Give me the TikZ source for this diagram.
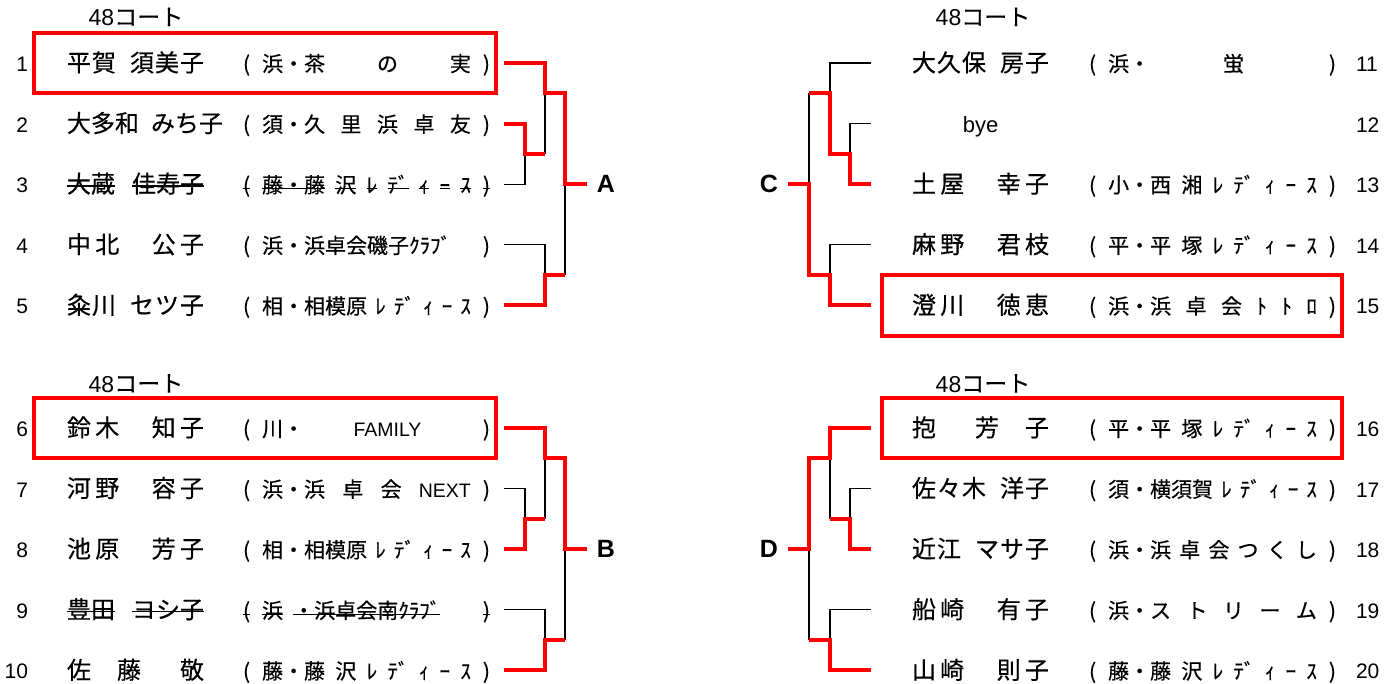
\documentclass[tikz,border=0pt]{standalone}
\usepackage{fontspec}
\setmainfont{Noto Sans CJK JP}[FakeBold=0.4]
\newfontfamily\latin{Liberation Sans}
\usetikzlibrary{matrix,positioning,calc}

\newcommand\nm[1]{\makebox[137bp][s]{#1}}
\newcommand\club[1]{\makebox[247bp][s]{(\hspace{12bp}#1\hspace{12bp})}}
\newcommand\sk[2][.25em]{\setbox0=\hbox{#2}\rlap{\rule[#1]{\wd0}{1.3bp}}\box0}
\newcommand\ks[1]{\sk[.16em]{#1}}
\newcommand\clubx[1]{\makebox[247bp][s]{\ks{(}\hspace{12bp}#1\hspace{12bp}\ks{)}}}
\newcommand\hs{\hspace{12bp}}
\newcommand\zs{\hspace{24bp}}
\newcommand\ltn[1]{{\latin\fontsize{19.5bp}{23bp}\selectfont #1}}

\tikzset{x=1bp,y=-1bp}
\tikzset{win/.style={draw=red, line width=4bp},
	lose/.style={draw=black, line width=1.2bp},
	winbox/.style={draw=red, line width=4bp},
	court/.style={font={\fontsize{23bp}{27bp}\selectfont}, inner sep=0pt, text height=19bp, text depth=2bp},
	pool/.style={font={\latin\bfseries\fontsize{25bp}{29bp}\selectfont}, inner ysep=0pt, inner xsep=10bp}}
\tikzset{sheet/.style={matrix of nodes, nodes in empty cells, ampersand replacement=\&,
		row sep=0pt, inner sep=0pt, outer sep=0pt, matrix anchor=north west,
		nodes={inner sep=0pt, outer sep=0pt, minimum height=60.6bp, text height=20bp, text depth=3bp}}}
\tikzset{drawL/.style={sheet, column sep=39bp,
		column 1/.style={nodes={text width=26bp, align=right, font={\latin\fontsize{21bp}{25bp}\selectfont}}},
		column 2/.style={nodes={text width=137bp, align=left, font={\fontsize{24bp}{28bp}\selectfont}}},
		column 3/.style={nodes={text width=247bp, align=left, font={\fontsize{21bp}{25bp}\selectfont}}}}}
\tikzset{drawR/.style={sheet, column sep=20bp,
		column 1/.style={nodes={text width=157bp, align=left, font={\fontsize{24bp}{28bp}\selectfont}}},
		column 2/.style={nodes={text width=247bp, align=left, font={\fontsize{21bp}{25bp}\selectfont}}},
		column 3/.style={nodes={text width=26bp, align=left, font={\latin\fontsize{21bp}{25bp}\selectfont}}}}}

\begin{document}
\begin{tikzpicture}
			\useasboundingbox (0,0) rectangle (1389,684);

			\matrix (mA) [drawL] at (2,32.7)
			{
				1 \& \nm{平\hfill 賀\hfill\hs\hfill 須\hfill 美\hfill 子} \& \club{浜・茶\hfill の\hfill 実} \\
				2 \& \makebox[137bp][l]{大多和\hs みち子} \& \club{須・久\hfill 里\hfill 浜\hfill 卓\hfill 友} \\
				3 \& \nm{\sk{大蔵}\hfill\sk{佳寿子}} \& \clubx{\ks{藤・藤}\hfill\ks{沢}\hfill\ks{ﾚ}\hfill\ks{ﾃﾞ}\hfill\ks{ｨ}\hfill\ks{ｰ}\hfill\ks{ｽ}} \\
				4 \& \nm{中\hfill 北\hfill\zs\hfill 公\hfill 子} \& \club{浜・浜卓会磯子ｸﾗﾌﾞ\hfill} \\
				5 \& \nm{粂\hfill 川\hfill\hs\hfill セ\hfill ツ\hfill 子} \& \club{相・相模原\hfill ﾚ\hfill ﾃﾞ\hfill ｨ\hfill ｰ\hfill ｽ} \\
			};

			\matrix (mB) [drawL] at (2,397.7)
			{
				6 \& \nm{鈴\hfill 木\hfill\zs\hfill 知\hfill 子} \& \club{川・\hfill\ltn{FAMILY}\hfill} \\
				7 \& \nm{河\hfill 野\hfill\zs\hfill 容\hfill 子} \& \club{浜・浜\hfill 卓\hfill 会\hfill\ltn{NEXT}} \\
				8 \& \nm{池\hfill 原\hfill\zs\hfill 芳\hfill 子} \& \club{相・相模原\hfill ﾚ\hfill ﾃﾞ\hfill ｨ\hfill ｰ\hfill ｽ} \\
				9 \& \nm{\sk{豊田}\hfill\sk{ヨシ子}} \& \clubx{\ks{浜}\hfill\ks{・浜卓会南ｸﾗﾌﾞ}\hfill\hfill\hfill} \\
				10 \& \nm{佐\hfill\hfill 藤\hfill\hfill\hfill 敬} \& \club{藤・藤\hfill 沢\hfill ﾚ\hfill ﾃﾞ\hfill ｨ\hfill ｰ\hfill ｽ} \\
			};

			\matrix (mC) [drawR] at (912,32.7)
			{
				\nm{大\hfill 久\hfill 保\hfill\hs\hfill 房\hfill 子} \& \club{浜・\hfill 蛍\hfill} \& 11 \\
				\makebox[137bp]{\latin\fontsize{22bp}{26bp}\selectfont bye} \& \& 12 \\
				\nm{土\hfill 屋\hfill\zs\hfill 幸\hfill 子} \& \club{小・西\hfill 湘\hfill ﾚ\hfill ﾃﾞ\hfill ｨ\hfill ｰ\hfill ｽ} \& 13 \\
				\nm{麻\hfill 野\hfill\zs\hfill 君\hfill 枝} \& \club{平・平\hfill 塚\hfill ﾚ\hfill ﾃﾞ\hfill ｨ\hfill ｰ\hfill ｽ} \& 14 \\
				\nm{澄\hfill 川\hfill\zs\hfill 徳\hfill 恵} \& \club{浜・浜\hfill 卓\hfill 会\hfill ﾄ\hfill ﾄ\hfill ﾛ} \& 15 \\
			};

			\matrix (mD) [drawR] at (912,397.7)
			{
				\nm{抱\hfill\hfill\hfill 芳\hfill\hfill 子} \& \club{平・平\hfill 塚\hfill ﾚ\hfill ﾃﾞ\hfill ｨ\hfill ｰ\hfill ｽ} \& 16 \\
				\nm{佐\hfill 々\hfill 木\hfill\hs\hfill 洋\hfill 子} \& \club{須・横須賀\hfill ﾚ\hfill ﾃﾞ\hfill ｨ\hfill ｰ\hfill ｽ} \& 17 \\
				\nm{近\hfill 江\hfill\hs\hfill マ\hfill サ\hfill 子} \& \club{浜・浜\hfill 卓\hfill 会\hfill つ\hfill く\hfill し} \& 18 \\
				\nm{船\hfill 崎\hfill\zs\hfill 有\hfill 子} \& \club{浜・ス\hfill ト\hfill リ\hfill ー\hfill ム} \& 19 \\
				\nm{山\hfill 崎\hfill\zs\hfill 則\hfill 子} \& \club{藤・藤\hfill 沢\hfill ﾚ\hfill ﾃﾞ\hfill ｨ\hfill ｰ\hfill ｽ} \& 20 \\
			};

			\node[court] (hA) at (136,17) {{\latin 48}コート};
			\node[court] (hC) at (983,17) {{\latin 48}コート};
			\node[court] (hB) at (136,383.5) {{\latin 48}コート};
			\node[court] (hD) at (983,383.5) {{\latin 48}コート};

			\draw[winbox] ($(mA-1-2.north west)+(-33,0)$) rectangle ($(mA-1-3.south east)+(6,0)$);
			\draw[winbox] ($(mB-1-2.north west)+(-33,0)$) rectangle ($(mB-1-3.south east)+(6,0)$);
			\draw[winbox] ($(mC-5-1.north west)+(-30,0)$) rectangle ($(mC-5-2.south east)+(6,0)$);
			\draw[winbox] ($(mD-1-1.north west)+(-30,0)$) rectangle ($(mD-1-2.south east)+(6,0)$);

			% block A
			\foreach \i in {1,...,5} {\coordinate (a\i) at ($(mA-\i-3.east)+(14,0)$);}
			\coordinate (a23) at (525,153.9);
			\coordinate (a123) at (545,93.3);
			\coordinate (a45) at (545,275.1);
			\coordinate (aT) at (565,93.3);
			\coordinate (aB) at (565,275.1);
			\node[pool] (A) at (606,184.2) {A};
			\draw[lose] (a3) -| (a23);
			\draw[lose] (a23 -| a123) -- (a123);
			\draw[lose] (a4) -| (a45);
			\draw[lose] (A -| aT) -- (aB);
			\draw[win] (a2) -| (a23) -- (a23 -| a123);
			\draw[win] (a1) -| (a123) -- (aT) |- (A);
			\draw[win] (a5) -| (a45) -- (aB);

			% block B
			\foreach \i in {1,...,5} {\coordinate (b\i) at ($(mB-\i-3.east)+(14,0)$);}
			\coordinate (b23) at (525,518.9);
			\coordinate (b123) at (545,458.3);
			\coordinate (b45) at (545,640.1);
			\coordinate (bT) at (565,458.3);
			\coordinate (bB) at (565,640.1);
			\node[pool] (B) at (606,549.2) {B};
			\draw[lose] (b2) -| (b23);
			\draw[lose] (b23 -| b123) -- (b123);
			\draw[lose] (b4) -| (b45);
			\draw[lose] (B -| bT) -- (bB);
			\draw[win] (b3) -| (b23) -- (b23 -| b123);
			\draw[win] (b1) -| (b123) -- (bT) |- (B);
			\draw[win] (b5) -| (b45) -- (bB);

			% block C
			\foreach \i in {1,...,5} {\coordinate (c\i) at ($(mC-\i-1.west)+(-41,0)$);}
			\coordinate (c23) at (850,153.9);
			\coordinate (c123) at (830,93.3);
			\coordinate (c45) at (830,275.1);
			\coordinate (cT) at (809,93.3);
			\coordinate (cB) at (809,275.1);
			\node[pool] (C) at (769,184.2) {C};
			\draw[lose] (c1) -| (c123);
			\draw[lose] (c2) -| (c23);
			\draw[lose] (cT) -- (C -| cT);
			\draw[lose] (c4) -| (c45);
			\draw[win] (c3) -| (c23) -- (c23 -| c123) -- (c123) -- (cT);
			\draw[win] (c5) -| (c45) -- (cB) |- (C);

			% block D
			\foreach \i in {1,...,5} {\coordinate (d\i) at ($(mD-\i-1.west)+(-41,0)$);}
			\coordinate (d23) at (850,518.9);
			\coordinate (d123) at (830,458.3);
			\coordinate (d45) at (830,640.1);
			\coordinate (dT) at (809,458.3);
			\coordinate (dB) at (809,640.1);
			\node[pool] (D) at (769,549.2) {D};
			\draw[lose] (d2) -| (d23);
			\draw[lose] (d23 -| d123) -- (d123);
			\draw[lose] (d4) -| (d45);
			\draw[lose] (D -| dB) -- (dB);
			\draw[win] (d3) -| (d23) -- (d23 -| d123);
			\draw[win] (d1) -| (d123) -- (dT) |- (D);
			\draw[win] (d5) -| (d45) -- (dB);
\end{tikzpicture}
\end{document}
